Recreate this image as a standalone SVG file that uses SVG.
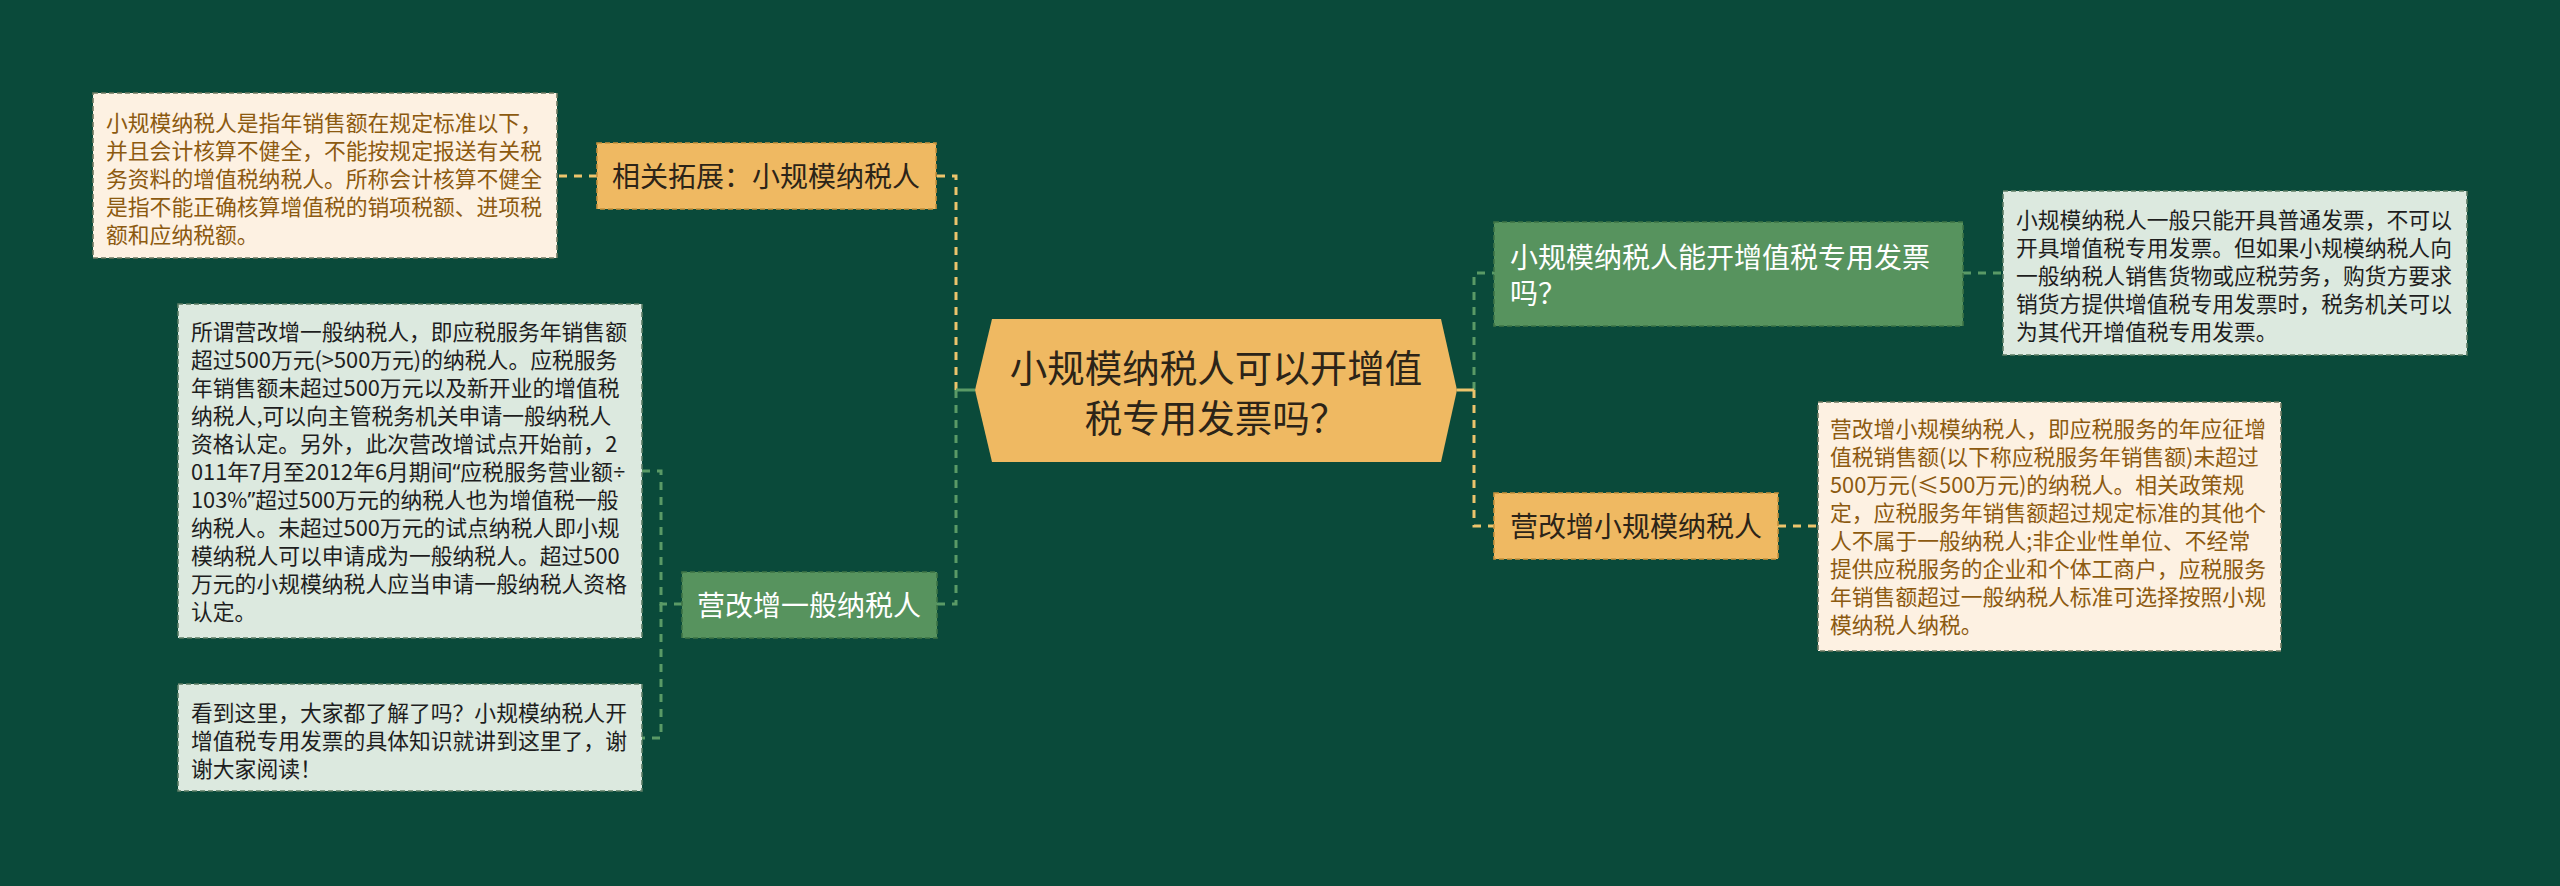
<svg xmlns="http://www.w3.org/2000/svg" width="2560" height="886" viewBox="0 0 2560 886">
<style>
text{font-family:"Noto Sans CJK SC","Noto Sans",sans-serif}
.lat{font-family:"Noto Sans",sans-serif}
.sm{font-size:21.8px}
.nd{font-size:28px}
.cream{fill:#fdf1e2;stroke:#6e7a62;stroke-width:1.6;stroke-dasharray:5 3}
.cream-t{fill:#8c5a10}
.lg{fill:#dce9df;stroke:#5d7d66;stroke-width:1.6;stroke-dasharray:5 3}
.lg-t{fill:#1e1e1e}
.on{fill:#efb962;stroke:#c8923d;stroke-width:1.6;stroke-dasharray:5 3}
.on-t{fill:#2c2418}
.gn{fill:#57935e;stroke:#3e7446;stroke-width:1.6;stroke-dasharray:5 3}
.gn-t{fill:#ffffff}
.co{fill:none;stroke:#ecc46c;stroke-width:3;stroke-dasharray:8 7}
.cg{fill:none;stroke:#5a9a66;stroke-width:3;stroke-dasharray:8 7}
.so{fill:none;stroke:#ecc46c;stroke-width:3}
.sg{fill:none;stroke:#5a9a66;stroke-width:3}
</style>
<rect x="0" y="0" width="2560" height="886" fill="#0a4a3a"/>
<g id="connectors">
<path class="co" d="M956 390 V176 H936"/>
<path class="co" d="M597 176 H557"/>
<path class="cg" d="M956 390 V604 H937"/>
<path class="cg" d="M682 604 H661 V471 H642"/>
<path class="cg" d="M661 604 V738 H642"/>
<line class="sg" x1="956" y1="390" x2="975" y2="390"/>
<path class="cg" d="M1474 390 V273 H1494"/>
<path class="cg" d="M1963 273 H2003"/>
<path class="co" d="M1474 390 V526 H1494"/>
<path class="co" d="M1778 526 H1818"/>
<line class="so" x1="1457" y1="390" x2="1474" y2="390"/>
</g>
<g id="center">
<polygon points="975,390 992,319 1441,319 1457,390 1441,462 992,462" fill="#efb962"/>
<text x="1216" y="382" font-size="37.5" text-anchor="middle" fill="#2c2418">小规模纳税人可以开增值</text>
<text x="1216" y="432" font-size="37.5" text-anchor="middle" fill="#2c2418">税专用发票吗？</text>
</g>
<g id="n-related">
<rect class="on" x="597" y="143" width="339" height="66"/>
<text class="nd on-t" x="766" y="187" text-anchor="middle">相关拓展：小规模纳税人</text>
</g>
<g id="n-related-desc">
<rect class="cream" x="93" y="93" width="464" height="165"/>
<text class="sm cream-t" x="106" y="131">小规模纳税人是指年销售额在规定标准以下，</text>
<text class="sm cream-t" x="106" y="159">并且会计核算不健全，不能按规定报送有关税</text>
<text class="sm cream-t" x="106" y="187">务资料的增值税纳税人。所称会计核算不健全</text>
<text class="sm cream-t" x="106" y="215">是指不能正确核算增值税的销项税额、进项税</text>
<text class="sm cream-t" x="106" y="243">额和应纳税额。</text>
</g>
<g id="n-general">
<rect class="gn" x="682" y="572" width="255" height="66"/>
<text class="nd gn-t" x="809" y="616" text-anchor="middle">营改增一般纳税人</text>
</g>
<g id="n-general-desc">
<rect class="lg" x="178" y="304" width="464" height="334"/>
<text class="sm lg-t" x="191" y="340">所谓营改增一般纳税人，即应税服务年销售额</text>
<text class="sm lg-t" x="191" y="368">超过500万元(&gt;500万元)的纳税人。应税服务</text>
<text class="sm lg-t" x="191" y="396">年销售额未超过500万元以及新开业的增值税</text>
<text class="sm lg-t" x="191" y="424">纳税人,可以向主管税务机关申请一般纳税人</text>
<text class="sm lg-t" x="191" y="452">资格认定。另外，此次营改增试点开始前，2</text>
<text class="sm lg-t" x="191" y="480">011年7月至2012年6月期间<tspan class="lat">“</tspan>应税服务营业额<tspan class="lat">÷</tspan></text>
<text class="sm lg-t" x="191" y="508">103%<tspan class="lat">”</tspan>超过500万元的纳税人也为增值税一般</text>
<text class="sm lg-t" x="191" y="536">纳税人。未超过500万元的试点纳税人即小规</text>
<text class="sm lg-t" x="191" y="564">模纳税人可以申请成为一般纳税人。超过500</text>
<text class="sm lg-t" x="191" y="592">万元的小规模纳税人应当申请一般纳税人资格</text>
<text class="sm lg-t" x="191" y="620">认定。</text>
</g>
<g id="n-general-end">
<rect class="lg" x="178" y="684" width="464" height="107"/>
<text class="sm lg-t" x="191" y="721">看到这里，大家都了解了吗？小规模纳税人开</text>
<text class="sm lg-t" x="191" y="749">增值税专用发票的具体知识就讲到这里了，谢</text>
<text class="sm lg-t" x="191" y="777">谢大家阅读！</text>
</g>
<g id="n-can">
<rect class="gn" x="1494" y="222" width="469" height="104"/>
<text class="nd gn-t" x="1510" y="268">小规模纳税人能开增值税专用发票</text>
<text class="nd gn-t" x="1510" y="304">吗？</text>
</g>
<g id="n-can-desc">
<rect class="lg" x="2003" y="191" width="464" height="164"/>
<text class="sm lg-t" x="2016" y="228">小规模纳税人一般只能开具普通发票，不可以</text>
<text class="sm lg-t" x="2016" y="256">开具增值税专用发票。但如果小规模纳税人向</text>
<text class="sm lg-t" x="2016" y="284">一般纳税人销售货物或应税劳务，购货方要求</text>
<text class="sm lg-t" x="2016" y="312">销货方提供增值税专用发票时，税务机关可以</text>
<text class="sm lg-t" x="2016" y="340">为其代开增值税专用发票。</text>
</g>
<g id="n-small">
<rect class="on" x="1494" y="493" width="284" height="66"/>
<text class="nd on-t" x="1636" y="537" text-anchor="middle">营改增小规模纳税人</text>
</g>
<g id="n-small-desc">
<rect class="cream" x="1818" y="402" width="463" height="249"/>
<text class="sm cream-t" x="1830" y="437">营改增小规模纳税人，即应税服务的年应征增</text>
<text class="sm cream-t" x="1830" y="465">值税销售额(以下称应税服务年销售额)未超过</text>
<text class="sm cream-t" x="1830" y="493">500万元(≤500万元)的纳税人。相关政策规</text>
<text class="sm cream-t" x="1830" y="521">定，应税服务年销售额超过规定标准的其他个</text>
<text class="sm cream-t" x="1830" y="549">人不属于一般纳税人;非企业性单位、不经常</text>
<text class="sm cream-t" x="1830" y="577">提供应税服务的企业和个体工商户，应税服务</text>
<text class="sm cream-t" x="1830" y="605">年销售额超过一般纳税人标准可选择按照小规</text>
<text class="sm cream-t" x="1830" y="633">模纳税人纳税。</text>
</g>
</svg>
